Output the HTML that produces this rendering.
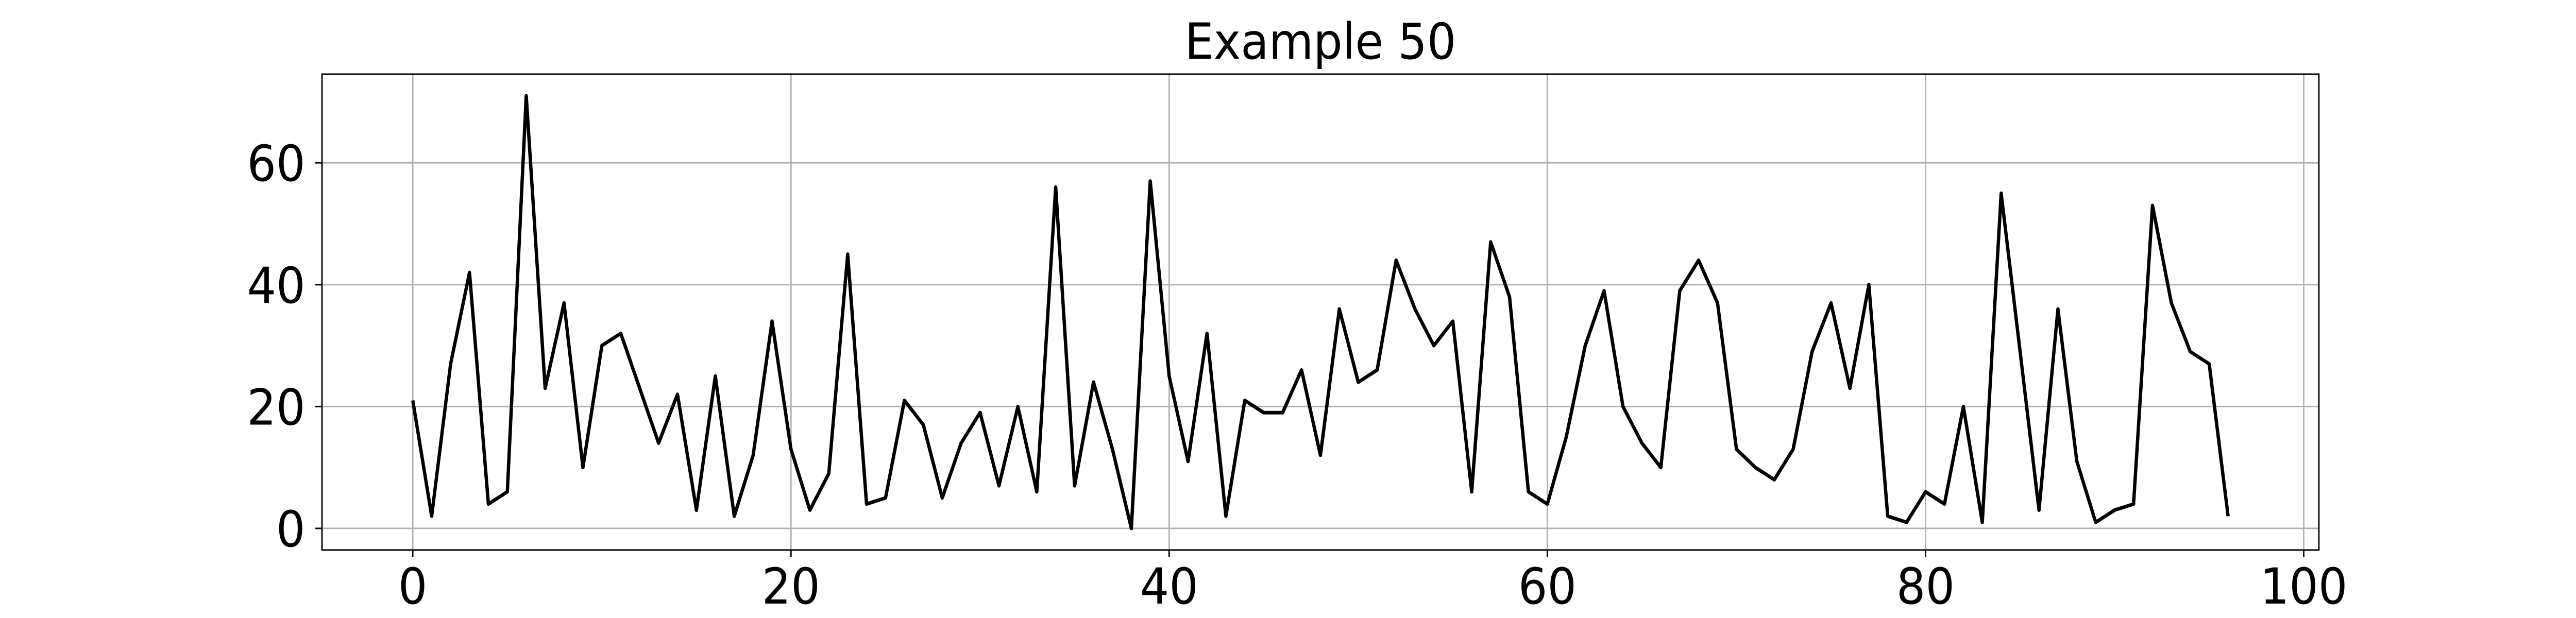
<!DOCTYPE html>
<html><head><meta charset="utf-8"><style>
html,body{margin:0;padding:0;background:#fff;width:100%;height:100%;overflow:hidden;}
svg{display:block;width:100vw;height:100vh;font-family:"DejaVu Sans","Liberation Sans",sans-serif;}
</style></head><body>
<svg id="chart" viewBox="0 0 5400 1200" preserveAspectRatio="none" xmlns="http://www.w3.org/2000/svg">
<rect width="5400" height="1200" fill="#fff"/>
<text x="2768" y="114" font-size="96" text-anchor="middle">Example 50</text>
<g id="grid"></g>
<g id="ticks"></g>
<path id="line" fill="none" stroke="#000" stroke-width="7" stroke-linejoin="round"/>
<rect x="675" y="144" width="4186" height="924" fill="none" stroke="#000" stroke-width="3"/>
</svg>
<script>
const values = [21,2,27,42,4,6,71,23,37,10,30,32,23,14,22,3,25,2,12,34,13,3,9,45,4,5,21,17,5,14,19,7,20,6,56,7,24,13,0,57,25,11,32,2,21,19,19,26,12,36,24,26,44,36,30,34,6,47,38,6,4,15,30,39,20,14,10,39,44,37,13,10,8,13,29,37,23,40,2,1,6,4,20,1,55,29,3,36,11,1,3,4,53,37,29,27,2];
const xTicks = [0,20,40,60,80,100];
const yTicks = [0,20,40,60];
const L=675,R=4861,T=144,B=1068;
const xMin=-4.8,xMax=100.8,yMin=-3.55,yMax=74.55;
function xs(v){return L+(v-xMin)/(xMax-xMin)*(R-L);}
function ys(v){return B-(v-yMin)/(yMax-yMin)*(B-T);}
const NS="http://www.w3.org/2000/svg";
const grid=document.getElementById('grid'), ticks=document.getElementById('ticks');
function mk(tag,attrs,parent){const e=document.createElementNS(NS,tag);for(const k in attrs)e.setAttribute(k,attrs[k]);parent.appendChild(e);return e;}
xTicks.forEach(t=>{
  const x=xs(t);
  const g=mk('line',{x1:x,x2:x,y1:T,y2:B,stroke:'#b0b0b0','stroke-width':3},grid);
  
  
  const tk=mk('line',{x1:x,x2:x,y1:B,y2:B+14,stroke:'#000','stroke-width':3},ticks);
  
  
  const tx=mk('text',{x:x,y:1172,'font-size':96,'text-anchor':'middle'},ticks);
  tx.textContent=t;
  
  
});
yTicks.forEach(t=>{
  const y=ys(t);
  const g=mk('line',{x1:L,x2:R,y1:y,y2:y,stroke:'#b0b0b0','stroke-width':3},grid);
  
  
  const tk=mk('line',{x1:L-14,x2:L,y1:y,y2:y,stroke:'#000','stroke-width':3},ticks);
  
  
  const tx=mk('text',{x:640,y:y+35,'font-size':96,'text-anchor':'end'},ticks);
  tx.textContent=t;
  
  
});
document.getElementById('line').setAttribute('d',values.map((v,i)=>(i?'L':'M')+xs(i).toFixed(1)+' '+ys(v).toFixed(1)).join(' '));
</script>
</body></html>
